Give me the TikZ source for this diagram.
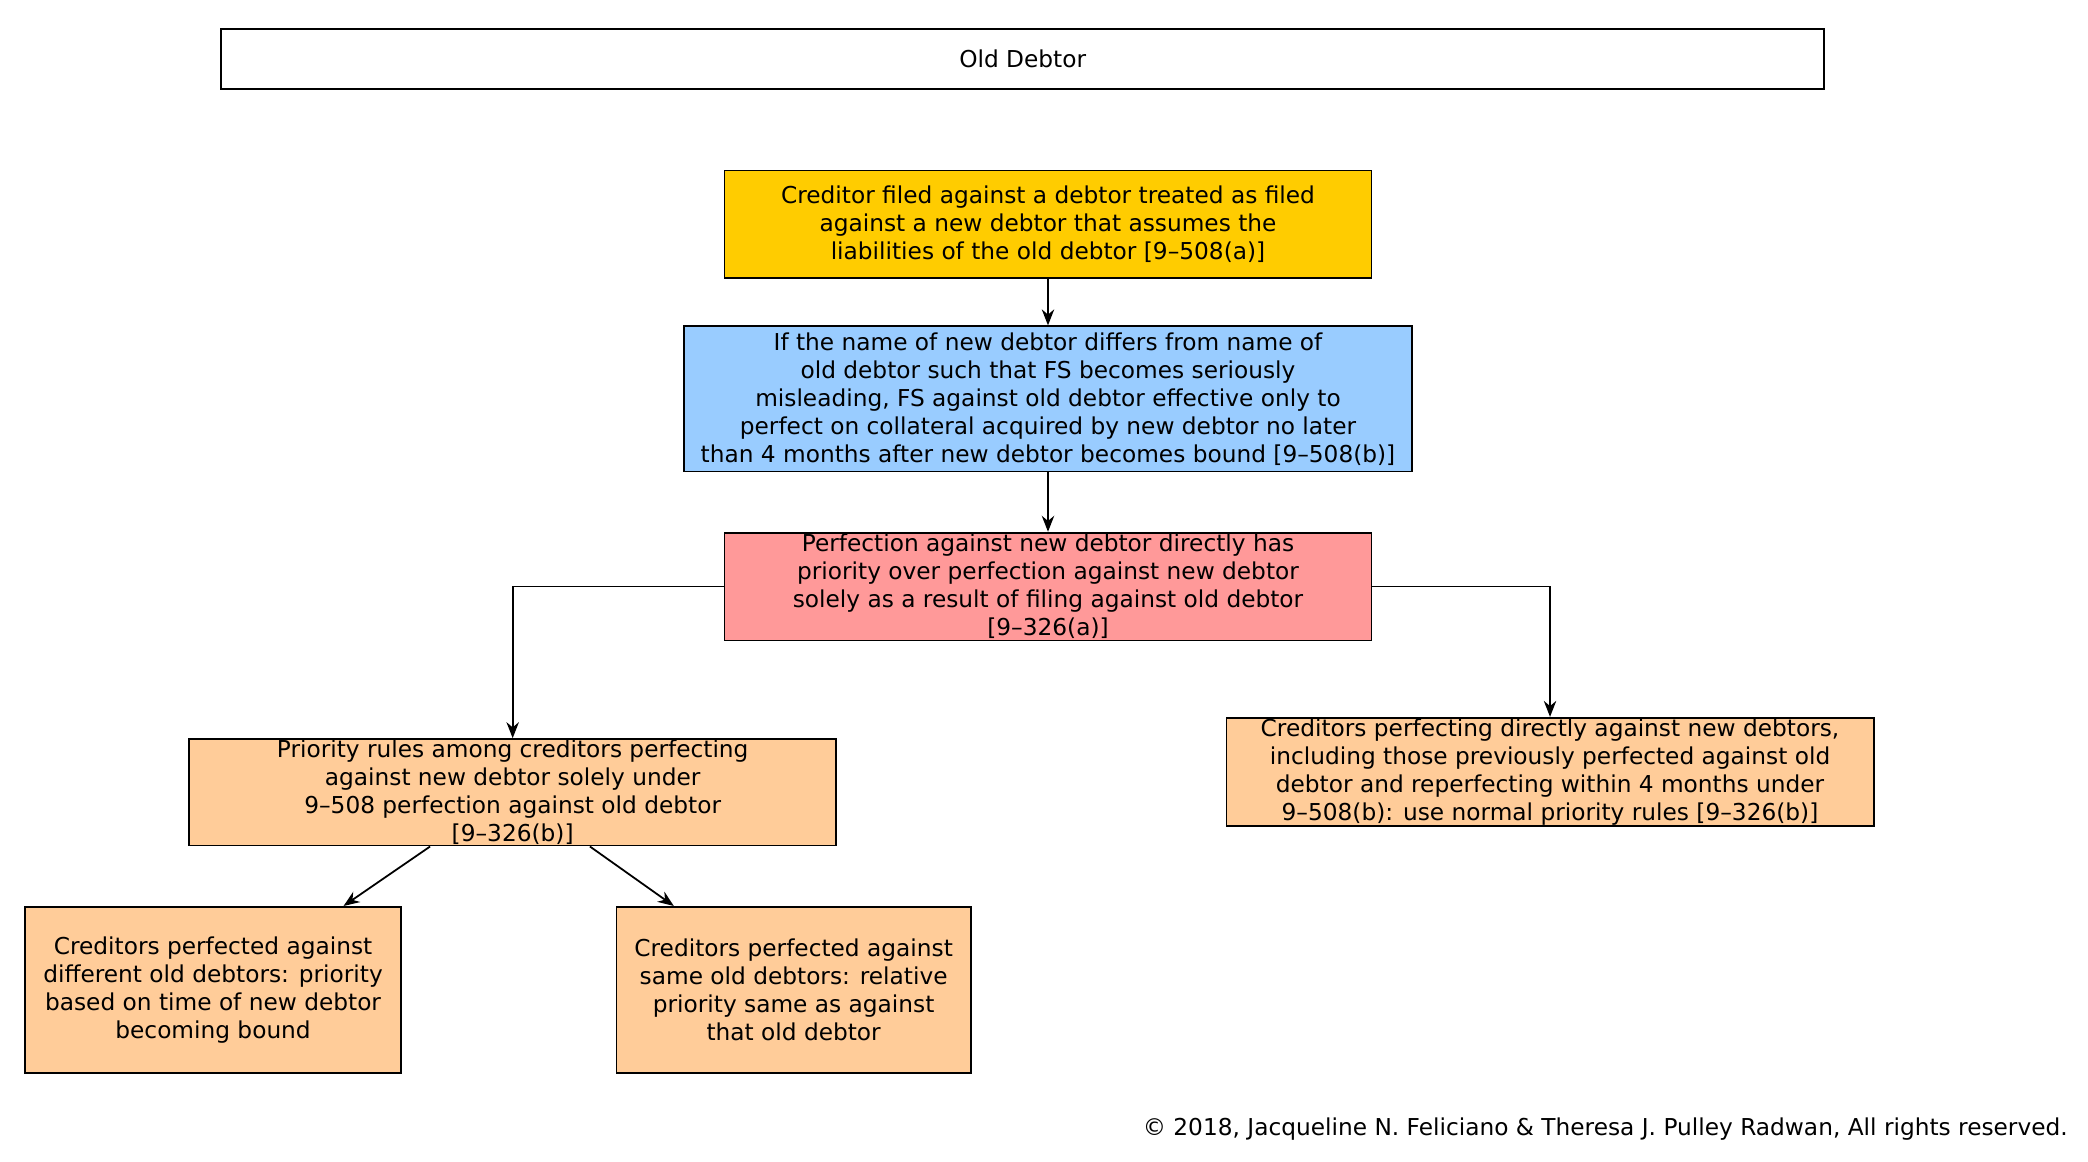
\documentclass[tikz,border=0pt]{standalone}
\usepackage{fontspec}
\setmainfont{DejaVu Sans}
\usetikzlibrary{arrows.meta}
\definecolor{cyellow}{HTML}{FFCC00}
\definecolor{cblue}{HTML}{99CCFF}
\definecolor{cpink}{HTML}{FF9999}
\definecolor{corange}{HTML}{FFCC99}
\begin{document}
\begin{tikzpicture}[x=0.75pt,y=-0.75pt,
  box/.style={draw=black, line width=1pt, align=center, inner sep=0pt, font=\fontsize{13.1}{15.75}\selectfont},
  arr/.style={-{Stealth[length=9pt,width=7pt]}, line width=1pt}]
\useasboundingbox[fill=white] (0,0) rectangle (1568,872);

\node[box, minimum width=903pt, minimum height=33.75pt] (old) at (768,44.5) {Old Debtor};
\node[box, fill=cyellow, minimum width=364.5pt, minimum height=60.75pt] (yel) at (787,168.5)
  {Creditor filed against a debtor treated as filed\\ against a new debtor that assumes the\\ liabilities of the old debtor [9–508(a)]};
\node[box, fill=cblue, minimum width=410.25pt, minimum height=81.75pt] (blue) at (787,299.5)
  {If the name of new debtor differs from name of\\ old debtor such that FS becomes seriously\\ misleading, FS against old debtor effective only to\\ perfect on collateral acquired by new debtor no later\\ than 4 months after new debtor becomes bound [9–508(b)]};
\node[box, fill=cpink, minimum width=364.5pt, minimum height=60.75pt] (pink) at (787,440.5)
  {Perfection against new debtor directly has\\ priority over perfection against new debtor\\ solely as a result of filing against old debtor\\{}[9–326(a)]};
\node[box, fill=corange, minimum width=364.5pt, minimum height=60pt] (lo) at (385,595)
  {Priority rules among creditors perfecting\\ against new debtor solely under\\ 9–508 perfection against old debtor\\{}[9–326(b)]};
\node[box, fill=corange, minimum width=364.5pt, minimum height=60.75pt] (ro) at (1164,579.5)
  {Creditors perfecting directly against new debtors,\\ including those previously perfected against old\\ debtor and reperfecting within 4 months under\\ 9–508(b): use normal priority rules [9–326(b)]};
\node[box, fill=corange, minimum width=211.5pt, minimum height=93.75pt] (bl) at (160,743.5)
  {Creditors perfected against\\ different old debtors: priority\\ based on time of new debtor\\ becoming bound};
\node[box, fill=corange, minimum width=199.5pt, minimum height=93.75pt] (bm) at (596,743.5)
  {Creditors perfected against\\ same old debtors: relative\\ priority same as against\\ that old debtor};
\node[anchor=east, inner sep=0pt, font=\fontsize{13.1}{15.75}\selectfont] (copy) at (1553,848)
  {© 2018, Jacqueline N. Feliciano \& Theresa J. Pulley Radwan, All rights reserved.};

\draw[arr] (yel.south) -- (blue.north);
\draw[arr] (blue.south) -- (pink.north);
\draw[arr] (pink.west) -| (lo.north);
\draw[arr] (pink.east) -| (ro.north);
\draw[arr] ([xshift=-46.5pt]lo.south) -- ([xshift=73.5pt]bl.north);
\draw[arr] ([xshift=43.5pt]lo.south) -- ([xshift=-67.5pt]bm.north);
\end{tikzpicture}
\end{document}
